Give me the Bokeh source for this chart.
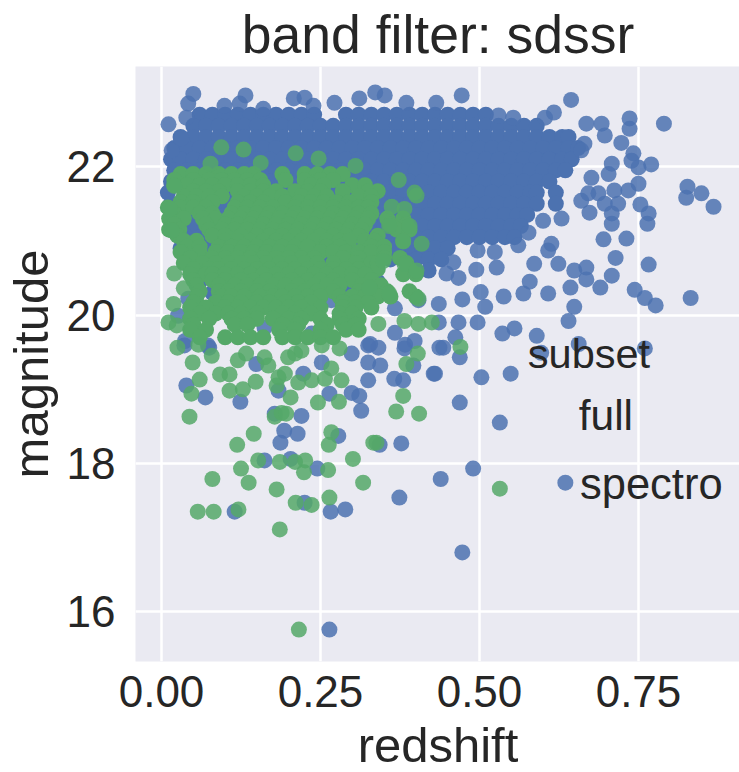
from bokeh.plotting import figure
from bokeh.models import Range1d, FixedTicker, NumeralTickFormatter, Label
from bokeh.embed import file_html
from bokeh.resources import INLINE

title_text = "band filter: sdssr"
x_label = "redshift"
y_label = "magnitude"
legend_title = "subset"
legend_names = ["full", "spectro"]
x_ticks = [0.0, 0.25, 0.5, 0.75]
y_ticks = [16, 18, 20, 22]

BLUE = "#4C72B0"
GREEN = "#55A868"
INK = "#262626"

# Dense body of the full sample, read band by band
full_band_mag = [22.7, 22.55, 22.4, 22.25, 22.1, 21.95, 21.8, 21.65, 21.5, 21.35, 21.2, 21.05, 20.9, 20.75, 20.6, 20.45, 20.3]
full_band_z = [
    [.06,.08,.10,.12,.14,.16,.18,.20,.22,.24,.29,.31,.33,.35,.37,.39,.41,.43,.45,.47,.49,.51],
    [.05,.07,.09,.11,.13,.15,.17,.19,.21,.23,.25,.27,.29,.31,.33,.35,.37,.39,.41,.43,.45,.47,.49,.51,.53,.55,.57,.59],
    [.03,.05,.07,.09,.11,.13,.15,.17,.19,.21,.23,.25,.27,.29,.31,.33,.35,.37,.39,.41,.43,.45,.47,.49,.51,.53,.55,.57,.59,.61,.63,.64],
    [.02,.04,.06,.08,.10,.12,.14,.16,.18,.20,.22,.24,.26,.28,.30,.32,.34,.36,.38,.40,.42,.44,.46,.48,.50,.52,.54,.56,.58,.60,.62,.64,.655],
    [.015,.03,.05,.07,.09,.11,.13,.15,.17,.19,.21,.23,.25,.27,.29,.31,.33,.35,.37,.39,.41,.43,.45,.47,.49,.51,.53,.55,.57,.59,.61,.63,.645],
    [.02,.04,.06,.08,.10,.12,.14,.16,.18,.20,.22,.24,.26,.28,.30,.32,.34,.36,.38,.40,.42,.44,.46,.48,.50,.52,.54,.56,.58,.60,.62,.635],
    [.015,.03,.05,.07,.09,.11,.13,.15,.17,.19,.21,.23,.25,.27,.29,.31,.33,.35,.37,.39,.41,.43,.45,.47,.49,.51,.53,.55,.57,.59,.61],
    [.01,.04,.06,.08,.10,.12,.14,.16,.18,.20,.22,.24,.26,.28,.30,.32,.34,.36,.38,.40,.42,.44,.46,.48,.50,.52,.54,.56,.58,.59,.62],
    [.015,.03,.05,.07,.09,.11,.13,.15,.17,.19,.21,.23,.25,.27,.29,.31,.33,.35,.37,.39,.41,.43,.45,.47,.49,.51,.53,.55,.57,.59,.62],
    [.02,.04,.06,.08,.10,.12,.14,.16,.18,.20,.22,.24,.26,.28,.30,.32,.34,.36,.38,.40,.42,.44,.46,.48,.50,.52,.54,.56,.575],
    [.03,.05,.07,.09,.11,.13,.15,.17,.19,.21,.23,.25,.27,.29,.31,.33,.35,.37,.39,.41,.43,.45,.47,.49,.51,.53,.55,.565],
    [.04,.06,.08,.10,.12,.14,.16,.18,.20,.22,.24,.26,.28,.30,.32,.34,.36,.38,.40,.42,.44,.46,.48,.50,.52,.54,.555],
    [.03,.05,.07,.09,.11,.13,.15,.17,.19,.21,.23,.25,.27,.29,.31,.33,.35,.37,.39,.41,.43,.45],
    [.04,.06,.08,.10,.12,.14,.16,.18,.20,.22,.24,.26,.28,.30,.32,.34,.36,.38,.40,.42,.44],
    [.05,.07,.09,.11,.13,.15,.17,.19,.21,.23,.25,.27,.29,.31,.33,.40,.42],
    [.06,.10,.12,.14,.16,.18,.24,.26,.28,.30,.34],
    [.08,.13,.17,.21,.25,.29,.33],
]

# Scattered members of the full sample: (redshift, magnitude)
full_top_edge = [(.011,22.57),(.05,22.98),(.042,22.85),(.039,22.66),(.132,22.96),(.208,22.92),(.225,22.93),(.239,22.82),(.272,22.86),(.311,22.92),(.336,23.0),(.351,22.96),(.385,22.86),(.432,22.86),(.099,22.82),(.123,22.85),(.16,22.78),(.016,22.22),(.031,22.38)]
full_right_wing = [(.472,22.96),(.644,22.9),(.617,22.73),(.603,22.66),(.553,22.66),(.53,22.69),(.668,22.58),(.692,22.58),(.736,22.65),(.736,22.51),(.79,22.58),(.697,22.42),(.723,22.32),(.665,22.31),(.66,22.22),(.742,22.18),(.739,22.08),(.75,21.99),(.77,22.03),(.708,22.04),(.703,21.9),(.676,21.85),(.75,21.77),(.734,21.68),(.712,21.68),(.687,21.64),(.671,21.64),(.66,21.54),(.697,21.5),(.718,21.5),(.673,21.38),(.708,21.37),(.708,21.23),(.753,21.49),(.766,21.37),(.764,21.23),(.695,21.02),(.731,21.03),(.714,20.77),(.766,20.68),(.827,21.73),(.825,21.58),(.849,21.64),(.868,21.46),(.832,20.23)]
full_lower_right = [(.708,20.53),(.69,20.37),(.744,20.34),(.76,20.23),(.777,20.13),(.668,20.64),(.668,20.48),(.649,20.6),(.643,20.37),(.649,20.11),(.64,19.92),(.624,20.69),(.608,20.87),(.613,20.96),(.586,20.69),(.579,20.45),(.569,20.29),(.608,20.29),(.561,20.94),(.577,21.11),(.629,21.3),(.6,21.27),(.538,20.25),(.502,20.31),(.509,20.11),(.473,20.21),(.436,20.15),(.524,20.85),(.497,20.87),(.527,20.64),(.495,20.61),(.467,20.5),(.448,20.56),(.459,20.71),(.436,19.9),(.467,19.9),(.497,19.9),(.536,19.75),(.555,19.82),(.59,19.72),(.597,19.49),(.656,19.61),(.76,19.55),(.443,19.56),(.462,19.7),(.469,19.43),(.43,19.21),(.503,19.16),(.549,19.21),(.469,18.82),(.532,18.55),(.49,17.93),(.439,17.79),(.635,17.74),(.473,16.8)]
full_lower_left = [(.039,19.05),(.069,18.89),(.124,18.83),(.299,19.48),(.325,19.36),(.344,19.32),(.325,19.12),(.366,19.14),(.38,19.12),(.428,19.21),(.299,18.95),(.311,18.91),(.314,18.71),(.264,18.94),(.22,18.64),(.178,18.67),(.193,18.44),(.214,18.4),(.187,18.28),(.278,18.37),(.343,18.25),(.377,18.27),(.162,18.04),(.203,18.06),(.245,17.93),(.374,17.54),(.225,17.47),(.115,17.35),(.266,17.35),(.289,17.38),(.264,15.76),(.223,19.21),(.252,19.36),(.149,19.34),(.184,18.98),(.396,19.32),(.382,19.55),(.437,19.56),(.325,19.59),(.341,19.56),(.075,19.56),(.036,19.59),(.367,20.09),(.367,19.76),(.328,19.61),(.383,19.6),(.398,19.65),(.404,20.2),(.267,20.2),(.236,19.75),(.162,19.83),(.162,20.15),(.026,19.99),(.042,20.22),(.073,19.59),(.037,19.65)]

# Dense body of the spectroscopic subset, read band by band
spectro_band_mag = [21.9, 21.82, 21.75, 21.67, 21.6, 21.52, 21.45, 21.37, 21.3, 21.22, 21.15, 21.07, 21.0, 20.92, 20.85, 20.77, 20.7, 20.62, 20.55, 20.47, 20.4, 20.32, 20.25, 20.17, 20.1, 20.02, 19.95, 19.87, 19.8, 19.7]
spectro_band_z = [
    [.03,.05,.07,.09,.11,.13,.145,.19,.225,.245,.265,.285],
    [.02,.05,.075,.095,.115,.135,.155,.195,.225,.25,.27],
    [.02,.04,.06,.08,.10,.12,.14,.16,.235,.255,.3,.32],
    [.05,.07,.09,.12,.14,.16,.18,.21,.23,.25,.285,.325,.34],
    [.035,.055,.075,.095,.13,.15,.17,.19,.22,.24,.26,.31,.33],
    [.03,.05,.08,.12,.14,.16,.195,.215,.235,.255,.275,.295,.33],
    [.01,.03,.05,.07,.115,.135,.155,.175,.21,.23,.25,.27,.29,.31,.325],
    [.02,.06,.08,.11,.13,.15,.17,.19,.21,.23,.25,.27,.29,.31,.33],
    [.012,.035,.065,.085,.105,.125,.145,.165,.185,.205,.225,.245,.265,.285,.305,.325,.355,.38],
    [.02,.07,.1,.12,.14,.16,.18,.2,.22,.24,.26,.28,.3,.32,.36,.385],
    [.012,.028,.075,.095,.115,.135,.155,.175,.195,.215,.235,.255,.275,.295,.315,.37,.39],
    [.025,.08,.1,.125,.15,.17,.19,.21,.23,.25,.27,.29,.31,.34],
    [.035,.055,.1,.12,.14,.16,.18,.2,.22,.24,.26,.28,.295,.32,.335,.38],
    [.04,.06,.09,.11,.13,.15,.17,.19,.21,.23,.26,.28,.33,.35],
    [.03,.06,.085,.105,.125,.145,.165,.185,.205,.25,.27,.29,.31,.33,.35],
    [.045,.08,.1,.12,.14,.16,.18,.2,.22,.24,.285,.31,.35,.375],
    [.035,.065,.085,.105,.125,.145,.165,.185,.205,.225,.245,.27,.305,.33,.34,.385],
    [.05,.075,.09,.11,.13,.15,.17,.19,.21,.23,.25,.27,.29,.31,.34,.39],
    [.045,.07,.08,.1,.12,.14,.16,.18,.2,.22,.24,.26,.28,.3,.32,.38,.4],
    [.05,.08,.1,.125,.145,.165,.185,.205,.23,.25,.27,.3,.33],
    [.055,.09,.115,.135,.155,.175,.195,.215,.24,.26,.28,.315,.345],
    [.06,.09,.105,.125,.15,.17,.205,.225,.245,.27,.31,.33,.355,.39],
    [.055,.095,.11,.13,.155,.175,.19,.21,.23,.25,.28,.3,.32,.34,.36,.4],
    [.05,.085,.105,.125,.15,.17,.195,.215,.235,.285,.305,.325],
    [.045,.07,.1,.12,.14,.16,.18,.2,.22,.25,.285,.305,.33],
    [.06,.085,.105,.125,.15,.19,.21,.235,.28,.3],
    [.045,.075,.11,.13,.15,.175,.2,.22,.25,.28,.31],
    [.05,.115,.135,.19,.215,.26,.285,.305],
    [.045,.07,.185,.21,.25,.29,.31],
    [.06,.1,.12,.14,.16,.19,.21,.23,.25,.27],
]

# Scattered members of the spectroscopic subset: (redshift, magnitude)
spectro_upper = [(.094,22.26),(.129,22.23),(.211,22.18),(.077,22.04),(.156,22.05),(.247,22.11),(.305,22.01),(.373,21.82),(.398,21.65),(.401,21.61),(.362,21.46),(.382,21.43),(.409,20.96),(.38,20.99),(.39,21.2),(.358,21.2),(.349,20.73),(.382,20.69),(.401,20.6),(.404,20.22),(.358,20.29),(.327,20.37),(.341,19.88),(.382,19.92),(.404,19.88),(.425,19.9),(.02,20.56),(.035,20.36),(.019,20.15),(.011,19.9),(.024,19.86),(.025,19.56),(.013,21.43),(.016,21.14),(.02,21.74)]
spectro_lower = [(.058,19.6),(.079,19.45),(.049,19.36),(.06,19.13),(.047,18.94),(.044,18.63),(.092,19.2),(.107,19.2),(.107,18.98),(.128,19.0),(.148,19.1),(.12,19.39),(.133,19.48),(.162,19.43),(.168,19.32),(.184,19.16),(.181,19.05),(.194,19.21),(.203,18.89),(.215,19.09),(.236,19.12),(.257,19.14),(.267,19.28),(.283,19.12),(.279,18.83),(.246,18.82),(.21,19.48),(.22,19.52),(.199,19.43),(.252,19.59),(.28,19.55),(.178,18.63),(.189,18.68),(.196,18.67),(.145,18.4),(.119,18.25),(.267,18.42),(.263,18.25),(.338,18.28),(.333,18.28),(.301,18.06),(.152,18.04),(.186,18.02),(.21,18.02),(.226,18.04),(.224,17.88),(.262,17.91),(.125,17.93),(.08,17.79),(.137,17.74),(.181,17.65),(.317,17.74),(.264,17.54),(.211,17.47),(.236,17.44),(.057,17.35),(.082,17.35),(.121,17.38),(.186,17.11),(.216,15.76),(.38,18.91),(.369,18.7),(.405,18.67),(.403,19.48),(.385,19.34),(.47,19.57),(.532,17.66)]


def bands(band_mag, band_z):
    z, m = [], []
    for mag, row in zip(band_mag, band_z):
        z += row
        m += [mag] * len(row)
    return z, m


def loose(*scatter_sets):
    z, m = [], []
    for s in scatter_sets:
        z += [a for a, _ in s]
        m += [b for _, b in s]
    return z, m


p = figure(
    width=739, height=772, frame_width=605, frame_height=595,
    x_range=Range1d(-0.0409, 0.9104), y_range=Range1d(15.33, 23.35),
    output_backend="svg", toolbar_location=None,
    min_border_left=134, min_border_right=0, min_border_top=66, min_border_bottom=111,
    background_fill_color="#EAEAF2", border_fill_color="#FFFFFF",
)
p.outline_line_color = None
p.title.text = title_text
p.title.text_font = "Liberation Sans"
p.title.text_font_size = "53.5px"
p.title.text_font_style = "normal"
p.title.text_color = INK
p.title.align = "center"
p.title.standoff = 5

for ax in (p.xaxis[0], p.yaxis[0]):
    ax.axis_line_color = None
    ax.major_tick_line_color = None
    ax.minor_tick_line_color = None
    ax.major_label_text_font = "Liberation Sans"
    ax.major_label_text_font_size = "44px"
    ax.major_label_text_color = INK
    ax.axis_label_text_font = "Liberation Sans"
    ax.axis_label_text_font_style = "normal"
    ax.axis_label_text_font_size = "49px"
    ax.axis_label_text_color = INK

p.xaxis[0].ticker = FixedTicker(ticks=x_ticks)
p.xaxis[0].formatter = NumeralTickFormatter(format="0.00")
p.xaxis[0].axis_label = x_label
p.xaxis[0].major_label_standoff = 8
p.xaxis[0].axis_label_standoff = 8
p.yaxis[0].ticker = FixedTicker(ticks=y_ticks)
p.yaxis[0].axis_label = y_label
p.yaxis[0].major_label_standoff = 14
p.yaxis[0].axis_label_standoff = 6

for g in (p.xgrid[0], p.ygrid[0]):
    g.grid_line_color = "#FFFFFF"
    g.grid_line_width = 2.5
p.xgrid[0].ticker = FixedTicker(ticks=x_ticks)
p.ygrid[0].ticker = FixedTicker(ticks=y_ticks)

fz, fm = bands(full_band_mag, full_band_z)
p.scatter(fz, fm, size=16, marker="circle", fill_color=BLUE, fill_alpha=1.0, line_color=None)
fz, fm = loose(full_top_edge, full_right_wing, full_lower_right, full_lower_left)
p.scatter(fz, fm, size=16, marker="circle", fill_color=BLUE, fill_alpha=0.85, line_color=None)
sz, sm = bands(spectro_band_mag, spectro_band_z)
p.scatter(sz, sm, size=16, marker="circle", fill_color=GREEN, fill_alpha=1.0, line_color=None)
sz, sm = loose(spectro_upper, spectro_lower)
p.scatter(sz, sm, size=16, marker="circle", fill_color=GREEN, fill_alpha=0.85, line_color=None)

for txt, zx, my, fs in [(legend_title, 0.576, 19.48, "41.5px"), (legend_names[0], 0.656, 18.64, "42.5px"), (legend_names[1], 0.658, 17.72, "43.5px")]:
    p.add_layout(Label(x=zx, y=my, text=txt, text_font="Liberation Sans",
                       text_font_size=fs, text_color=INK, text_baseline="alphabetic"))

open("out.html", "w").write(file_html(p, INLINE))
